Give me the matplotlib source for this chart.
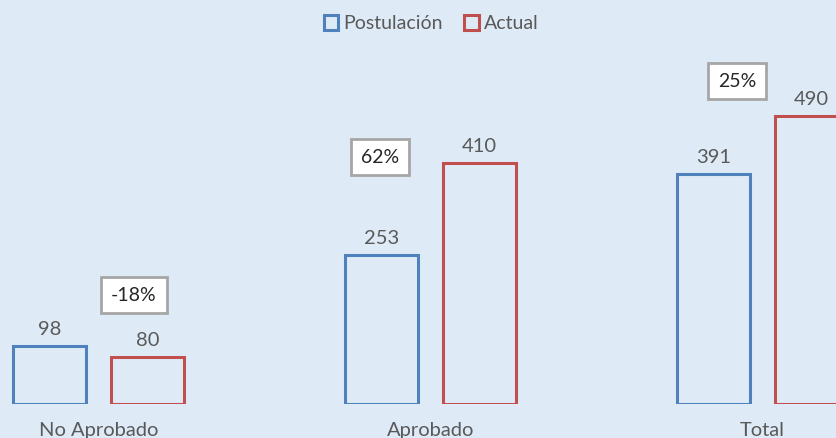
import numpy as np
import matplotlib
matplotlib.use("Agg")
import matplotlib.pyplot as plt

# --- Data ---
categories = ["No Aprobado", "Aprobado", "Total"]
postulacion = [98, 253, 391]
actual = [80, 410, 490]

# --- Style ---
BG = "#DEEBF7"
BLUE = "#4F81BD"
RED = "#C0504D"
TXT = "#595959"
plt.rcParams["font.family"] = ["Lato", "DejaVu Sans"]

# change boxes placement (x offset from group centre, y in data units)
box_dx = [0.107, -0.152, -0.077]
box_y = [185, 420, 549]

fig = plt.figure(figsize=(8.37, 4.38), dpi=100)
fig.patch.set_facecolor(BG)
ax = fig.add_axes([0, 34 / 438, 1, 404 / 438])
ax.set_facecolor(BG)

x = np.arange(len(categories))
off = 0.1476
w = 0.22
b1 = ax.bar(x - off, postulacion, w, facecolor="none", edgecolor=BLUE, linewidth=2.2, label="Postulación")
b2 = ax.bar(x + off, actual, w, facecolor="none", edgecolor=RED, linewidth=2.2, label="Actual")

for bars in (b1, b2):
    for r in bars:
        ax.annotate(f"{r.get_height():.0f}", (r.get_x() + r.get_width() / 2, r.get_height()),
                    xytext=(0, 6), textcoords="offset points", ha="center", va="bottom",
                    fontsize=14.5, color=TXT)

for i, (p, a) in enumerate(zip(postulacion, actual)):
    pct = (a - p) / p * 100
    ax.text(x[i] + box_dx[i], box_y[i], f"{pct:.0f}%", ha="center", va="center",
            fontsize=14, color="#262626",
            bbox=dict(boxstyle="square,pad=0.5", facecolor="white", edgecolor="#A6A6A6", linewidth=2))

ax.set_xlim(-98.5 / 332, (837 - 98.5) / 332)
ax.set_ylim(0, 404 / 0.588)
ax.set_xticks(x)
ax.set_xticklabels(categories, fontsize=14.5, color=TXT)
ax.tick_params(axis="x", length=0, pad=13)
ax.set_yticks([])
for s in ax.spines.values():
    s.set_visible(False)

leg = fig.legend(handles=[b1, b2], loc="upper center", bbox_to_anchor=(0.515, 1.005), ncol=2,
                 frameon=False, fontsize=14, handlelength=0.75, handleheight=0.75,
                 handletextpad=0.25, columnspacing=1.1, labelcolor=TXT)

fig.savefig("out.png", dpi=100, facecolor=BG)
